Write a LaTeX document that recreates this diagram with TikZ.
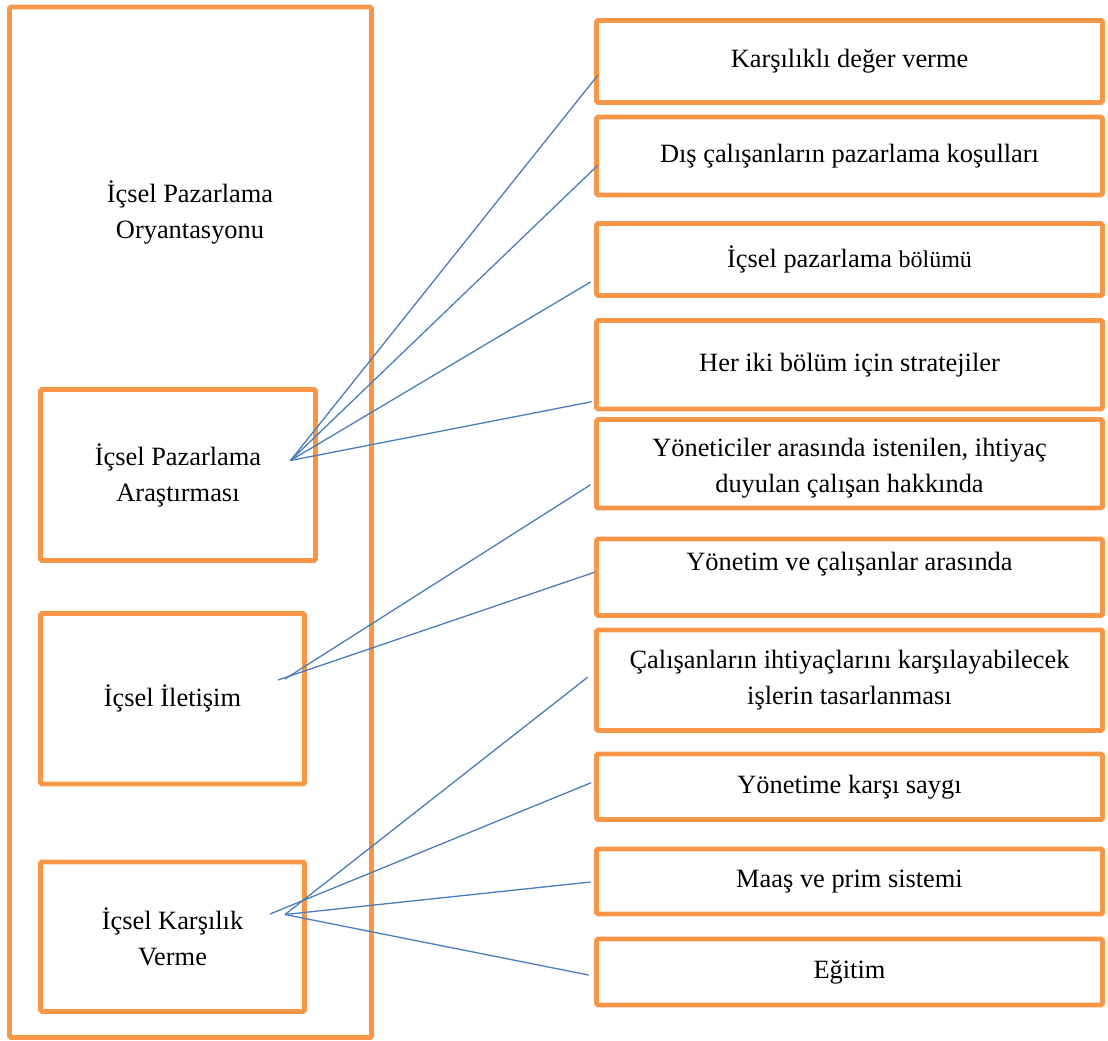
\documentclass[tikz,border=0pt]{standalone}
\usepackage{fontspec}
\setmainfont{Liberation Serif}
\usetikzlibrary{calc}

\definecolor{frameorange}{HTML}{F79646}
\definecolor{linkblue}{HTML}{4A7EBB}

\begin{document}
\begin{tikzpicture}[
  x=1pt, y=-1pt,
  frame/.style     = {draw=frameorange, line width=4.8pt, rounded corners=1.5pt,
                      inner sep=0pt},
  leftbox/.style   = {frame, align=center, font=\fontsize{26.4}{36}\selectfont},
  rightbox/.style  = {frame, align=center, minimum width=506pt,
                      font=\fontsize{26.4}{36}\selectfont},
  title/.style     = {align=center, font=\fontsize{26.4}{36}\selectfont},
  link/.style      = {draw=linkblue, line width=1.3pt},
]
  \useasboundingbox (0,0) rectangle (1108,1041);

  % left column
  \node[frame, minimum width=362pt, minimum height=1030.5pt] (orient) at (190.5,522.25) {};
  \node[title] (orienttitle) at (190,212) {İçsel Pazarlama\\Oryantasyonu};
  \node[leftbox, minimum width=275pt, minimum height=171pt] (arast) at (178,475) {İçsel Pazarlama\\Araştırması};
  \node[leftbox, minimum width=264pt, minimum height=170.5pt] (iletis) at (172.5,698.75) {İçsel İletişim};
  \node[leftbox, minimum width=264pt, minimum height=149.5pt] (karsil) at (172.5,936.75) {İçsel Karşılık\\Verme};

  % right column
  \node[rightbox, minimum height=82pt] (deger) at (849.5,61.5) {Karşılıklı değer verme};
  \node[rightbox, minimum height=78pt] (dis) at (849.5,156) {Dış çalışanların pazarlama koşulları};
  \node[rightbox, minimum height=72pt] (bolum) at (849.5,259.5) {İçsel pazarlama {\fontsize{24}{32}\selectfont bölümü}};
  \node[rightbox, minimum height=88.5pt] (strat) at (849.5,364.75) {Her iki bölüm için stratejiler};
  \node[rightbox, minimum height=88.5pt] (yonetici) at (849.5,463.75) {\rule{0pt}{28pt}Yöneticiler arasında istenilen, ihtiyaç\\duyulan çalışan hakkında};
  \node[rightbox, minimum height=76.5pt, text depth=31pt] (yonetim) at (849.5,577.25) {Yönetim ve çalışanlar arasında};
  \node[rightbox, minimum height=100.5pt] (tasarim) at (849.5,680.25) {Çalışanların ihtiyaçlarını karşılayabilecek\\işlerin tasarlanması};
  \node[rightbox, minimum height=65.5pt] (saygi) at (849.5,786.75) {Yönetime karşı saygı};
  \node[rightbox, minimum height=65pt] (maas) at (849.5,881.5) {Maaş ve prim sistemi};
  \node[rightbox, minimum height=66pt] (egitim) at (849.5,972) {Eğitim};

  % where the links leave the left boxes
  \coordinate (arastout) at (290.5,460.5);
  \coordinate (iletisoutA) at (278,680);
  \coordinate (iletisoutB) at (285,679);
  \coordinate (karsiloutA) at (270,914);
  \coordinate (karsiloutB) at (285,914.5);

  \draw[link] (arastout) -- ($(deger.west)+(3.5,14)$);
  \draw[link] (arastout) -- ($(dis.west)+(3.5,9.5)$);
  \draw[link] (arastout) -- ($(bolum.west)+(-3.5,22.5)$);
  \draw[link] (arastout) -- ($(strat.west)+(-2.5,37)$);
  \draw[link] (iletisoutB) -- ($(yonetici.west)+(-3.5,21)$);
  \draw[link] (iletisoutA) -- ($(yonetim.west)+(0.5,-5)$);
  \draw[link] (karsiloutB) -- ($(tasarim.west)+(-6.5,-3)$);
  \draw[link] (karsiloutA) -- ($(saygi.west)+(-3,-4)$);
  \draw[link] (karsiloutB) -- ($(maas.west)+(-3.5,0.5)$);
  \draw[link] (karsiloutB) -- ($(egitim.west)+(-5.5,3)$);
\end{tikzpicture}
\end{document}
